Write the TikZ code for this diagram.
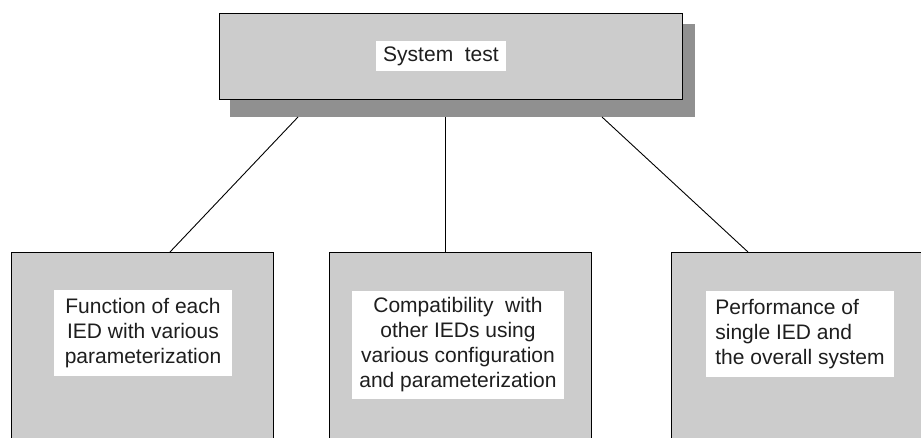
\documentclass[tikz,border=0pt]{standalone}
\usepackage{fontspec}
\setmainfont{Liberation Sans}
\usetikzlibrary{calc}
\definecolor{boxgray}{HTML}{CCCCCC}
\definecolor{shadowgray}{HTML}{909090}
\definecolor{inkdark}{HTML}{1E1E1E}
\begin{document}
\begin{tikzpicture}[x=1pt,y=-1pt,
  headbox/.style={draw=black,line width=1.4pt,fill=boxgray},
  itembox/.style={draw=black,line width=1.1pt,fill=boxgray},
  label/.style={fill=white,inner sep=0pt,text=inkdark,align=center,
    font=\fontsize{21}{25}\selectfont},
  link/.style={draw=black,line width=0.9pt}]
\clip (0,0) rectangle (921,437);
\fill[white] (0,0) rectangle (921,437);

% shadow and heading box
\fill[shadowgray] (230,24) rectangle (695,117);
\coordinate (shb) at (230,117);
\node[headbox,minimum width=463,minimum height=86,anchor=north west] (top) at (219,13) {};
\node[label,minimum width=130,minimum height=30] (toplabel) at (441,56) {System~~test};

% three test areas (running off the bottom edge)
\node[itembox,minimum width=262,minimum height=230,anchor=north west] (b1) at (10.5,252) {};
\node[itembox,minimum width=261.5,minimum height=230,anchor=north west] (b2) at (329,252) {};
\node[itembox,minimum width=280,minimum height=230,anchor=north west] (b3) at (671,252) {};

\node[label,minimum width=178,minimum height=86] (l1) at (143,333)
  {Function of each\\IED with various\\parameterization};
\node[label,minimum width=212,minimum height=108] (l2) at (458,345)
  {Compatibility~~with\\other IEDs using\\various configuration\\and parameterization};
\node[label,align=left,minimum width=188,minimum height=86] (l3) at (800,334)
  {Performance of\\single IED and\\the overall system};

% connectors from the shadow edge to each box
\draw[link] ($(shb)+(68,0)$) -- ($(b1.north west)+(159.5,0)$);
\draw[link] ($(shb)+(215,0)$) -- ($(b2.north west)+(116,0)$);
\draw[link] ($(shb)+(372,0)$) -- ($(b3.north west)+(77,0)$);
\end{tikzpicture}
\end{document}
